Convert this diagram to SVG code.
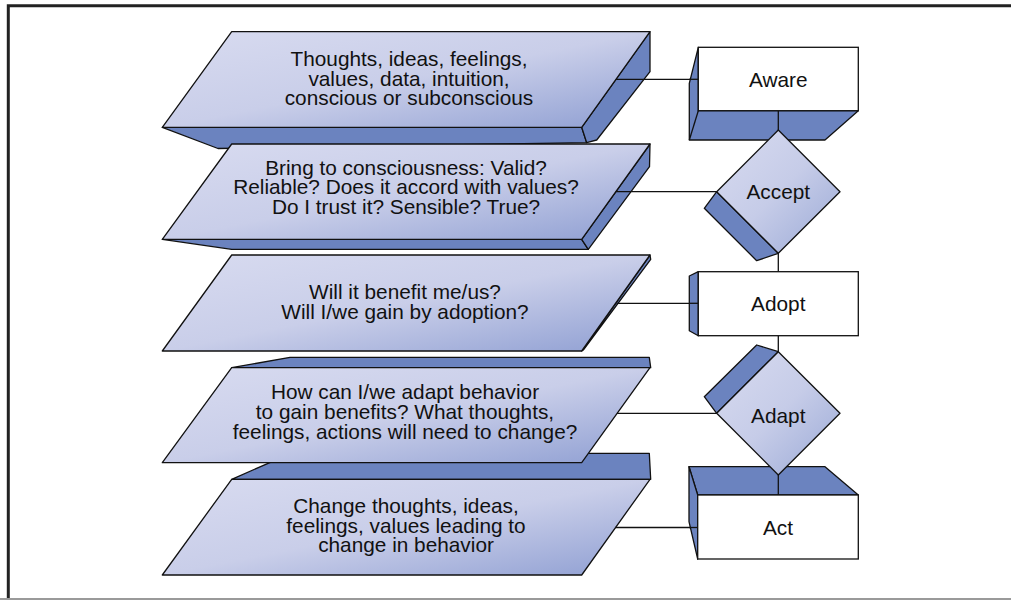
<svg xmlns="http://www.w3.org/2000/svg" width="1011" height="600" viewBox="0 0 1011 600">
<defs>
<linearGradient id="gFace" x1="0" y1="0" x2="1" y2="1">
<stop offset="0" stop-color="#d8dbf0"/>
<stop offset="0.5" stop-color="#c9cee9"/>
<stop offset="1" stop-color="#8e9ed2"/>
</linearGradient>
<linearGradient id="gDia" x1="0" y1="0" x2="1" y2="1">
<stop offset="0" stop-color="#d8dbf0"/>
<stop offset="0.5" stop-color="#c6cce8"/>
<stop offset="1" stop-color="#9aa9d6"/>
</linearGradient>
<style>
.face{fill:url(#gFace);stroke:#111;stroke-width:1.3;stroke-linejoin:round}
.dark{fill:#6b83bf;stroke:#111;stroke-width:1.3;stroke-linejoin:round}
.box{fill:#fff;stroke:#111;stroke-width:1.3}
.dia{fill:url(#gDia);stroke:#111;stroke-width:1.3;stroke-linejoin:round}
.ln{stroke:#111;stroke-width:1.3;fill:none}
.t{font-family:"Liberation Sans",Arial,Helvetica,sans-serif;font-size:20.8px;fill:#111;text-anchor:middle}
</style>
</defs>
<rect width="1011" height="600" fill="#fff"/>
<path d="M8.3,600 V5.7 H1011" fill="none" stroke="#222" stroke-width="3"/>
<line x1="0" y1="599" x2="1011" y2="599" stroke="#9a9a9a" stroke-width="2"/>

<g id="slab-aware">
<polygon class="dark" points="162.3,127.3 581.7,127.3 586.7,142.7 218,148.5"/>
<polygon class="dark" points="650,31.7 650,71.7 596.7,140 586.7,142.7 581.7,127.3"/>
<polygon class="face" points="231.7,31.7 650,31.7 581.7,127.3 162.3,127.3"/>
<text class="t" x="409" y="66">Thoughts, ideas, feelings,</text>
<text class="t" x="409" y="85.5">values, data, intuition,</text>
<text class="t" x="409" y="105">conscious or subconscious</text>
</g>
<g id="slab-accept">
<polygon class="dark" points="162.3,239.3 581.7,239.3 588.3,249.3 231.7,249.3"/>
<polygon class="dark" points="650,144 649.5,166.7 588.3,249.3 581.7,239.3"/>
<polygon class="face" points="231.7,144 650,144 581.7,239.3 162.3,239.3"/>
<text class="t" x="406" y="175">Bring to consciousness: Valid?</text>
<text class="t" x="406" y="194.3">Reliable? Does it accord with values?</text>
<text class="t" x="406" y="213.6">Do I trust it? Sensible? True?</text>
</g>
<g id="slab-adopt">
<polygon class="dark" points="650,255 650.7,259.3 583.3,350 581.7,351"/>
<polygon class="face" points="231.7,255 650,255 581.7,351 162.3,351"/>
<text class="t" x="405" y="299.3">Will it benefit me/us?</text>
<text class="t" x="405" y="318.6">Will I/we gain by adoption?</text>
</g>
<g id="slab-act">
<polygon class="dark" points="231.7,479.3 291,453.3 649.3,453.3 650.7,479.3"/>
<polygon class="face" points="231.7,479.3 650,479.3 581.7,575 162.3,575"/>
<text class="t" x="406" y="513.3">Change thoughts, ideas,</text>
<text class="t" x="406" y="532.7">feelings, values leading to</text>
<text class="t" x="406" y="552">change in behavior</text>
</g>
<g id="slab-adapt">
<polygon class="dark" points="231.7,367.7 290,357.3 649.3,357.3 650.7,367.7"/>
<polygon class="face" points="231.7,367.7 650,367.7 581.7,462.7 162.3,462.7"/>
<text class="t" x="405" y="399.3">How can I/we adapt behavior</text>
<text class="t" x="405" y="419">to gain benefits? What thoughts,</text>
<text class="t" x="405" y="438.7">feelings, actions will need to change?</text>
</g>

<g id="connectors">
<line class="ln" x1="616" y1="79.3" x2="698.3" y2="79.3"/>
<line class="ln" x1="615.8" y1="191.7" x2="716.7" y2="191.7"/>
<line class="ln" x1="616.7" y1="303.3" x2="698.3" y2="303.3"/>
<line class="ln" x1="617" y1="413.3" x2="716.7" y2="413.3"/>
<line class="ln" x1="615.5" y1="527.5" x2="697.7" y2="527.5"/>
<line class="ln" x1="778.3" y1="253.3" x2="778.3" y2="271.7"/>
<line class="ln" x1="778.3" y1="335.7" x2="778.3" y2="351.7"/>
</g>

<g id="node-aware">
<polygon class="dark" points="698.3,47.3 698.3,110.7 858.3,110.7 825,140 689.3,140 689.3,83.3"/>
<line class="ln" x1="698.3" y1="110.7" x2="689.3" y2="140"/>
<line class="ln" x1="778.3" y1="110.7" x2="778.3" y2="130"/>
<line class="ln" x1="689.3" y1="79.3" x2="698.3" y2="79.3"/>
<rect class="box" x="698.3" y="47.3" width="160" height="63.4"/>
<text class="t" x="778.3" y="86.7">Aware</text>
</g>
<g id="node-accept">
<polygon class="dark" points="716.7,191.7 704.3,208.3 756.7,260.7 778.3,253.3"/>
<polygon class="dia" points="778.3,130 840,191.7 778.3,253.3 716.7,191.7"/>
<text class="t" x="778.3" y="199">Accept</text>
</g>
<g id="node-adopt">
<polygon class="dark" points="698.3,271.7 689.3,276 689.3,330.7 698.3,335.7"/>
<line class="ln" x1="689.3" y1="303.3" x2="698.3" y2="303.3"/>
<rect class="box" x="698.3" y="271.7" width="160" height="64"/>
<text class="t" x="778.3" y="310.7">Adopt</text>
</g>
<g id="node-act">
<polygon class="dark" points="689,466.7 825,466.7 858.3,495 697.7,495"/>
<polygon class="dark" points="689,466.7 697.7,495 697.7,559 689,521.7"/>
<line class="ln" x1="778.3" y1="475" x2="778.3" y2="495"/>
<line class="ln" x1="689" y1="527.5" x2="697.7" y2="527.5"/>
<rect class="box" x="697.7" y="495" width="160.6" height="64"/>
<text class="t" x="778" y="535">Act</text>
</g>
<g id="node-adapt">
<polygon class="dark" points="778.3,351.7 756.7,345 704.3,396.7 716.7,413.3"/>
<polygon class="dia" points="778.3,351.7 840,413.3 778.3,475 716.7,413.3"/>
<text class="t" x="778.3" y="422.7">Adapt</text>
</g>
</svg>
